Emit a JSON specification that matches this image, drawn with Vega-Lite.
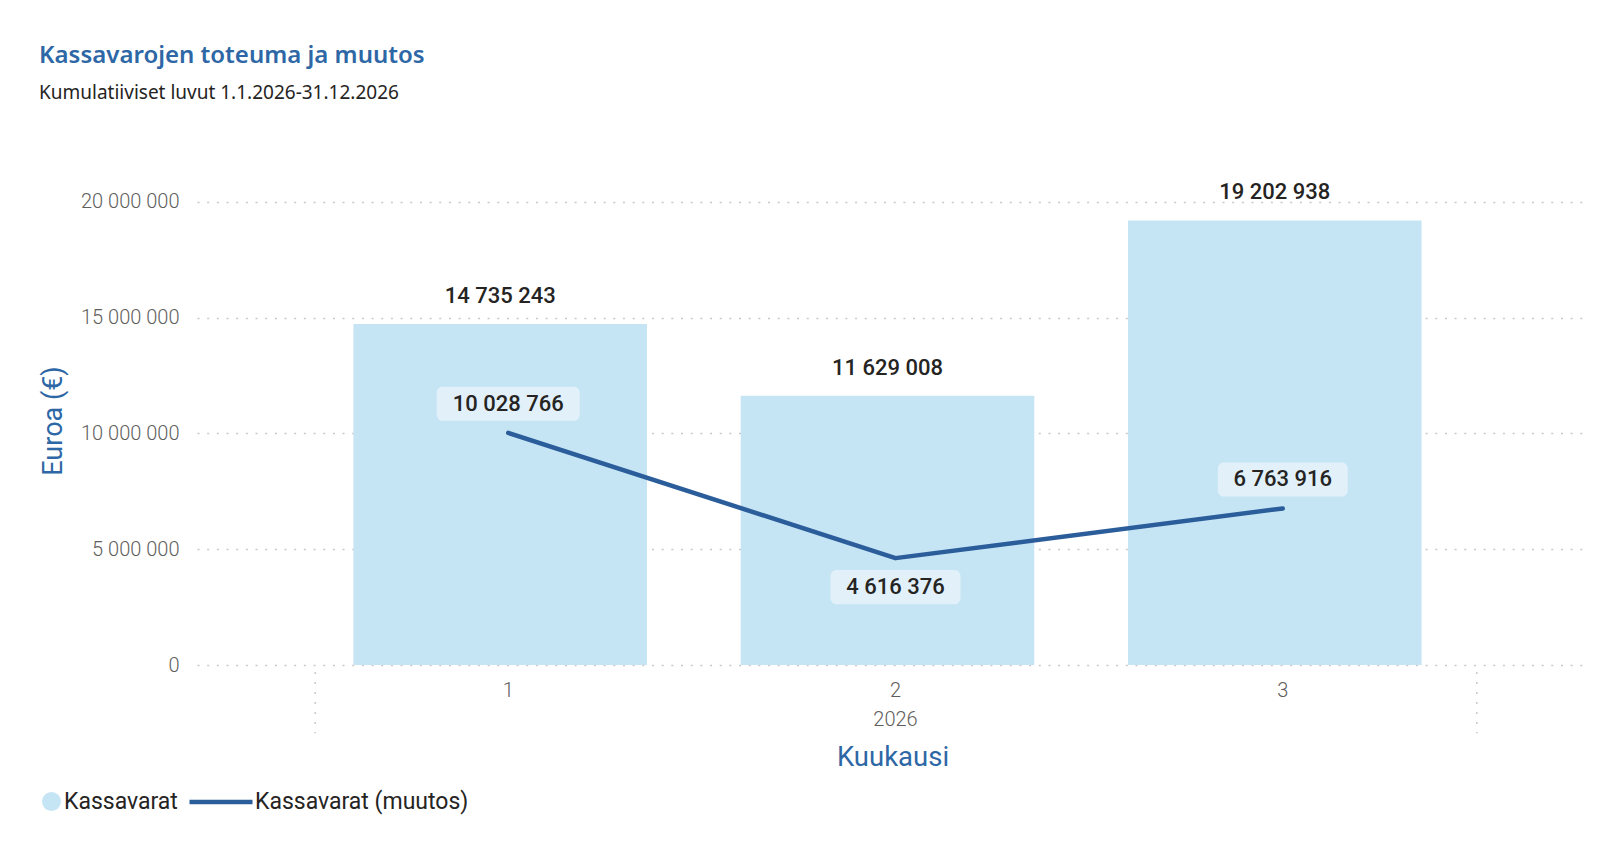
{
  "$schema": "https://vega.github.io/schema/vega-lite/v6.json",
  "width": 1391,
  "height": 489,
  "autosize": {"type": "none"},
  "padding": {"left": 197, "top": 176, "right": 13, "bottom": 187},
  "background": "#ffffff",
  "title": {
    "text": "Kassavarojen toteuma ja muutos",
    "subtitle": "Kumulatiiviset luvut 1.1.2026-31.12.2026",
    "anchor": "start",
    "frame": "group",
    "dx": -158,
    "offset": 73,
    "font": "Noto Sans",
    "fontSize": 24,
    "fontWeight": 600,
    "color": "#2E67A5",
    "subtitleFont": "Noto Sans",
    "subtitleFontSize": 19,
    "subtitleColor": "#252423",
    "subtitlePadding": 16
  },
  "data": {
    "values": [
      {"kk": 1, "vuosi": 2026, "kassavarat": 14735243, "muutos": 10028766},
      {"kk": 2, "vuosi": 2026, "kassavarat": 11629008, "muutos": 4616376},
      {"kk": 3, "vuosi": 2026, "kassavarat": 19202938, "muutos": 6763916}
    ]
  },
  "encoding": {
    "x": {
      "field": "kk",
      "type": "ordinal",
      "title": "Kuukausi",
      "scale": {"paddingInner": 0.242, "paddingOuter": 0.4168},
      "axis": {
        "titleFont": "Roboto",
        "titleFontSize": 27.5,
        "titleColor": "#2E67A5",
        "titleFontWeight": 400,
        "titlePadding": 14,
        "labelAngle": 0,
        "labelFont": "Roboto",
        "labelFontSize": 20,
        "labelFontWeight": 300,
        "labelColor": "#605E5C",
        "labelPadding": 15,
        "labelOffset": 3,
        "labelBaseline": "top",
        "labelLineHeight": 29,
        "labelExpr": "datum.value == 2 ? ['2', '2026'] : datum.label",
        "domain": false,
        "ticks": false,
        "grid": false
      }
    }
  },
  "layer": [
    {
      "mark": {"type": "bar", "xOffset": -5},
      "encoding": {
        "y": {
          "field": "kassavarat",
          "type": "quantitative",
          "title": "Euroa (€)",
          "scale": {"domain": [0, 21123000], "nice": false},
          "axis": {
            "titleFont": "Roboto",
            "titleFontSize": 27,
            "titleColor": "#2E67A5",
            "titleFontWeight": 400,
            "titlePadding": 13,
            "values": [0, 5000000, 10000000, 15000000, 20000000],
            "format": ",d",
            "labelFont": "Roboto",
            "labelFontSize": 20,
            "labelFontWeight": 300,
            "labelColor": "#605E5C",
            "labelPadding": 18,
            "domain": false,
            "ticks": false,
            "grid": true,
            "gridDash": [2, 7.67],
            "gridColor": "#C8C8C8",
            "gridWidth": 1.5
          }
        },
        "fill": {
          "datum": "Kassavarat",
          "type": "nominal",
          "scale": {"range": ["#C5E5F5"]},
          "legend": {
            "title": null,
            "orient": "none",
            "legendX": -157,
            "legendY": 614,
            "direction": "horizontal",
            "symbolType": "circle",
            "symbolSize": 361,
            "symbolStrokeWidth": 0,
            "labelFont": "Roboto",
            "labelFontSize": 23,
            "labelFontWeight": 400,
            "labelColor": "#252423",
            "labelOffset": 1,
            "labelLimit": 400
          }
        }
      }
    },
    {
      "transform": [{"filter": "datum.kk == 1"}],
      "mark": {"type": "rule", "xOffset": -190, "strokeDash": [2, 8], "color": "#C8C8C8", "strokeWidth": 1.5},
      "encoding": {
        "y": {"datum": -300000, "type": "quantitative", "title": "Euroa (€)"},
        "y2": {"datum": -2950000}
      }
    },
    {
      "transform": [{"filter": "datum.kk == 3"}],
      "mark": {"type": "rule", "xOffset": 197, "strokeDash": [2, 8], "color": "#C8C8C8", "strokeWidth": 1.5},
      "encoding": {
        "y": {"datum": -300000, "type": "quantitative", "title": "Euroa (€)"},
        "y2": {"datum": -2950000}
      }
    },
    {
      "mark": {"type": "text", "dy": -28, "xOffset": -5, "font": "Roboto", "fontSize": 22, "fontWeight": 500, "color": "#252423", "baseline": "middle"},
      "encoding": {
        "y": {"field": "kassavarat", "type": "quantitative", "title": "Euroa (€)"},
        "text": {"field": "kassavarat", "type": "quantitative", "format": ",d"}
      }
    },
    {
      "mark": {"type": "line", "strokeWidth": 4.5, "strokeCap": "round", "strokeJoin": "round", "xOffset": 3},
      "encoding": {
        "y": {"field": "muutos", "type": "quantitative", "title": "Euroa (€)"},
        "stroke": {
          "datum": "Kassavarat (muutos)",
          "type": "nominal",
          "scale": {"range": ["#2B5D9B"]},
          "legend": {
            "title": null,
            "orient": "none",
            "legendX": -10,
            "legendY": 592,
            "direction": "horizontal",
            "symbolType": "stroke",
            "symbolSize": 3969,
            "symbolStrokeWidth": 4.5,
            "labelFont": "Roboto",
            "labelFontSize": 23,
            "labelFontWeight": 400,
            "labelColor": "#252423",
            "labelOffset": 0,
            "labelLimit": 400
          }
        }
      }
    },
    {
      "transform": [{"filter": "datum.kk != 2"}],
      "layer": [
        {
          "mark": {"type": "point", "filled": true, "color": "#E1F0F9", "opacity": 1, "xOffset": 3, "yOffset": -29, "size": 20449, "strokeWidth": 0},
          "encoding": {
            "y": {"field": "muutos", "type": "quantitative", "title": "Euroa (€)"},
            "shape": {
              "condition": {"test": "datum.muutos >= 10000000", "value": "M-0.916,-0.238H0.916A0.084,0.084 0 0 1 1,-0.154V0.154A0.084,0.084 0 0 1 0.916,0.238H-0.916A0.084,0.084 0 0 1 -1,0.154V-0.154A0.084,0.084 0 0 1 -0.916,-0.238Z"},
              "value": "M-0.825,-0.238H0.825A0.084,0.084 0 0 1 0.909,-0.154V0.154A0.084,0.084 0 0 1 0.825,0.238H-0.825A0.084,0.084 0 0 1 -0.909,0.154V-0.154A0.084,0.084 0 0 1 -0.825,-0.238Z"
            }
          }
        },
        {
          "mark": {"type": "text", "xOffset": 3, "yOffset": -29, "font": "Roboto", "fontSize": 22, "fontWeight": 500, "color": "#252423", "baseline": "middle"},
          "encoding": {
            "y": {"field": "muutos", "type": "quantitative", "title": "Euroa (€)"},
            "text": {"field": "muutos", "type": "quantitative", "format": ",d"}
          }
        }
      ]
    },
    {
      "transform": [{"filter": "datum.kk == 2"}],
      "layer": [
        {
          "mark": {"type": "point", "filled": true, "color": "#E1F0F9", "opacity": 1, "xOffset": 3, "yOffset": 29, "size": 20449, "strokeWidth": 0},
          "encoding": {
            "y": {"field": "muutos", "type": "quantitative", "title": "Euroa (€)"},
            "shape": {"value": "M-0.825,-0.238H0.825A0.084,0.084 0 0 1 0.909,-0.154V0.154A0.084,0.084 0 0 1 0.825,0.238H-0.825A0.084,0.084 0 0 1 -0.909,0.154V-0.154A0.084,0.084 0 0 1 -0.825,-0.238Z"}
          }
        },
        {
          "mark": {"type": "text", "xOffset": 3, "yOffset": 29, "font": "Roboto", "fontSize": 22, "fontWeight": 500, "color": "#252423", "baseline": "middle"},
          "encoding": {
            "y": {"field": "muutos", "type": "quantitative", "title": "Euroa (€)"},
            "text": {"field": "muutos", "type": "quantitative", "format": ",d"}
          }
        }
      ]
    }
  ],
  "config": {
    "view": {"stroke": null},
    "locale": {"number": {"decimal": ",", "thousands": " ", "grouping": [3], "currency": ["", " €"]}}
  }
}
